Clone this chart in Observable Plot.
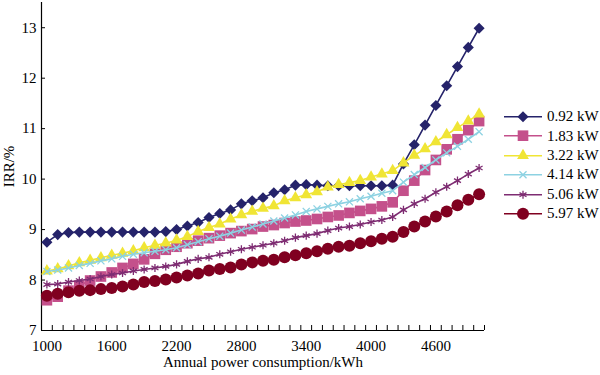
<!DOCTYPE html>
<html><head><meta charset="utf-8">
<script src="https://cdn.jsdelivr.net/npm/d3@7"></script>
<script src="https://cdn.jsdelivr.net/npm/@observablehq/plot@0.6"></script>
<style>
html,body{margin:0;padding:0;background:#fff;overflow:hidden;}
#wrap{position:relative;width:600px;height:375px;overflow:hidden;}
#legend{position:absolute;left:499px;top:107px;font-family:"Liberation Serif",serif;font-size:15px;color:#000;white-space:nowrap;}
.row{display:flex;align-items:center;height:19.4px;}
.row svg{display:block;flex:none;}
</style></head><body><div id="wrap"><div id="chart"></div><div id="legend"></div></div>
<script>
// Categories: annual power consumption (kWh)
const consumption = [1000,1100,1200,1300,1400,1500,1600,1700,1800,1900,2000,2100,2200,2300,2400,2500,2600,2700,2800,2900,3000,3100,3200,3300,3400,3500,3600,3700,3800,3900,4000,4100,4200,4300,4400,4500,4600,4700,4800,4900,5000];

// Series: IRR (%) for each PV capacity
const irr092 = [8.75,8.90,8.94,8.95,8.95,8.95,8.95,8.95,8.95,8.95,8.95,8.96,9.00,9.07,9.14,9.24,9.32,9.39,9.51,9.57,9.63,9.73,9.79,9.88,9.89,9.88,9.87,9.87,9.87,9.87,9.87,9.87,9.88,10.30,10.68,11.07,11.46,11.85,12.23,12.61,12.99];
const irr183 = [7.60,7.67,7.79,7.89,7.99,8.07,8.15,8.24,8.32,8.41,8.52,8.60,8.66,8.73,8.78,8.83,8.88,8.93,8.97,9.01,9.06,9.09,9.13,9.16,9.18,9.21,9.25,9.28,9.33,9.37,9.41,9.46,9.54,9.77,9.97,10.18,10.38,10.59,10.79,10.97,11.15];
const irr322 = [8.18,8.22,8.28,8.34,8.39,8.44,8.49,8.53,8.58,8.64,8.69,8.73,8.79,8.86,8.96,9.04,9.11,9.21,9.29,9.36,9.42,9.47,9.57,9.63,9.69,9.75,9.84,9.89,9.93,9.97,10.04,10.10,10.17,10.32,10.47,10.60,10.74,10.88,11.02,11.15,11.29];
const irr414 = [8.17,8.20,8.24,8.29,8.33,8.38,8.42,8.47,8.51,8.54,8.57,8.60,8.64,8.70,8.76,8.82,8.87,8.93,8.99,9.05,9.11,9.17,9.23,9.29,9.36,9.41,9.46,9.51,9.55,9.61,9.66,9.72,9.77,9.94,10.09,10.23,10.38,10.52,10.65,10.79,10.94];
const irr506 = [7.91,7.92,7.96,7.99,8.02,8.07,8.11,8.14,8.18,8.21,8.24,8.27,8.31,8.37,8.42,8.45,8.51,8.56,8.61,8.65,8.69,8.73,8.78,8.84,8.88,8.92,8.98,9.03,9.06,9.10,9.15,9.19,9.25,9.39,9.51,9.61,9.74,9.85,9.97,10.10,10.22];
const irr597 = [7.69,7.73,7.76,7.79,7.80,7.82,7.84,7.87,7.91,7.96,7.98,8.01,8.05,8.09,8.13,8.19,8.22,8.25,8.31,8.35,8.38,8.40,8.45,8.49,8.53,8.57,8.62,8.66,8.68,8.73,8.77,8.82,8.86,8.95,9.06,9.16,9.26,9.36,9.48,9.59,9.70];

const seriesNames = ["0.92 kW","1.83 kW","3.22 kW","4.14 kW","5.06 kW","5.97 kW"];
const seriesValues = [irr092, irr183, irr322, irr414, irr506, irr597];

// Tick labels
const yTicks = [7,8,9,10,11,12,13];
const xTickLabels = [1000,1600,2200,2800,3400,4000,4600];
const xMinorTicks = [950,1050,1150,1250,1350,1450,1550,1650,1750,1850,1950,2050,2150,2250,2350,2450,2550,2650,2750,2850,2950,3050,3150,3250,3350,3450,3550,3650,3750,3850,3950,4050,4150,4250,4350,4450,4550,4650,4750,4850,4950,5050];

// Styles
const styles = [
  {color:"#25236a", symbol:"diamond2", d3sym:d3.symbolDiamond2, r:5.0, filled:true},
  {color:"#c4508b", symbol:"square", d3sym:d3.symbolSquare, r:6.0, filled:true},
  {color:"#f0e535", symbol:"triangle", d3sym:d3.symbolTriangle, r:4.4, filled:true},
  {color:"#8dd2e2", symbol:"times", d3sym:d3.symbolTimes, r:3.3, filled:false},
  {color:"#7e2c72", symbol:"asterisk", d3sym:d3.symbolAsterisk, r:3.8, filled:false},
  {color:"#800020", symbol:"circle", d3sym:d3.symbolCircle, r:6.0, filled:true}
];

const marks = [
  Plot.axisY({ticks:yTicks, tickSize:0, tickPadding:5, tickFormat:d=>String(d), label:"IRR/%", labelAnchor:"center", labelOffset:38, labelArrow:"none"}),
  Plot.axisY({ticks:yTicks, text:null, tickSize:4, dx:4, label:null}),
  Plot.axisX({ticks:xTickLabels, tickSize:0, tickPadding:10, tickFormat:d=>String(d), label:"Annual power consumption/kWh", labelAnchor:"center", labelOffset:36, labelArrow:"none"}),
  Plot.axisX({ticks:xMinorTicks, text:null, tickSize:5, dy:-5, label:null}),
  Plot.ruleX([950], {stroke:"#000", strokeWidth:1.2}),
  Plot.ruleY([7], {stroke:"#000", strokeWidth:1.2})
];

seriesValues.forEach((vals, k) => {
  const st = styles[k];
  const data = consumption.map((x, i) => ({x, y: vals[i], s: seriesNames[k]}));
  marks.push(Plot.line(data, {x:"x", y:"y", stroke:st.color, strokeWidth:1.6}));
  marks.push(Plot.dot(data, {x:"x", y:"y", symbol:st.symbol, r:st.r,
    fill: st.filled ? st.color : "none", stroke: st.filled ? "none" : st.color, strokeWidth:1.3}));
});

const chart = Plot.plot({
  width:600, height:375,
  marginLeft:41, marginRight:116, marginTop:2, marginBottom:45,
  x:{domain:[950,5050]},
  y:{domain:[7,13.5]},
  style:{fontFamily:"'Liberation Serif', serif", fontSize:"15px", color:"#000", background:"#fff"},
  marks
});
document.getElementById("chart").appendChild(chart);

// Legend
const legend = d3.select("#legend");
seriesNames.forEach((name, k) => {
  const st = styles[k];
  const row = legend.append("div").attr("class","row");
  const svg = row.append("svg").attr("width",48).attr("height",19.4);
  svg.append("line").attr("x1",5).attr("x2",43).attr("y1",9.7).attr("y2",9.7)
    .attr("stroke",st.color).attr("stroke-width",1.6);
  svg.append("path").attr("transform","translate(24,9.7)")
    .attr("d", d3.symbol(st.d3sym, Math.PI*st.r*st.r)())
    .attr("fill", st.filled ? st.color : "none")
    .attr("stroke", st.filled ? "none" : st.color).attr("stroke-width",1.3);
  row.append("span").text(name);
});
</script>
</body></html>
